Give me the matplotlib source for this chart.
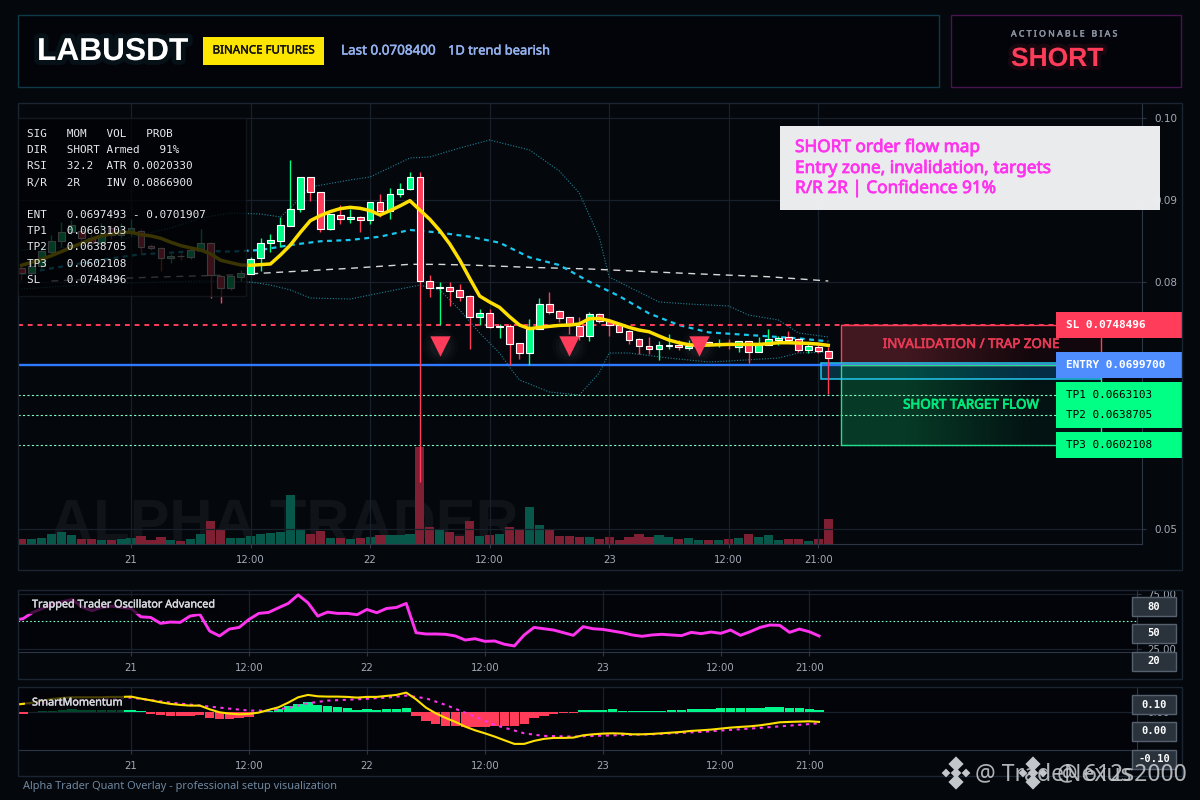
import numpy as np
import matplotlib
matplotlib.use('Agg')
import matplotlib.pyplot as plt
import matplotlib.patheffects as pe
from matplotlib.patches import Rectangle

# hours counted from 21 00:00, one candle per hour
hours = list(range(-11, 71))
opens = [.08171, .08110, .08200, .08374, .08508, .08609, .08625, .08536, .08475, .08658, .08577, .08610,
         .08621, .08443, .08414, .08293, .08325, .08313, .08394, .08475, .08082, .07928, .08070, .08106,
         .08293, .08483, .08508, .08690, .08897, .09278, .09096, .08654, .08824, .08775, .08792, .08755,
         .08974, .08873, .09071, .09132, .09278, .08013, .07936, .07940, .07903, .07830, .07583, .07623,
         .07461, .07465, .07258, .07145, .07437, .07733, .07648, .07575, .07469, .07352, .07611, .07534,
         .07481, .07404, .07307, .07222, .07189, .07230, .07234, .07206, .07218, .07271, .07250, .07258,
         .07218, .07283, .07157, .07234, .07299, .07331, .07307, .07181, .07218, .07169]
highs = [.08200, .08232, .08420, .08577, .08739, .08760, .08698, .08590, .08719, .08700, .08720, .08771,
         .08646, .08470, .08430, .08340, .08362, .08415, .08646, .08490, .08090, .08090, .08151, .08313,
         .08536, .08585, .08792, .09489, .09278, .09278, .09096, .08828, .08938, .08889, .08808, .08982,
         .09076, .09144, .09205, .09343, .09343, .08086, .08005, .08005, .07980, .07846, .07676, .07672,
         .07494, .07494, .07258, .07554, .07806, .07883, .07664, .07575, .07579, .07640, .07623, .07542,
         .07502, .07420, .07319, .07340, .07283, .07372, .07295, .07299, .07311, .07291, .07311, .07311,
         .07291, .07291, .07340, .07433, .07348, .07404, .07319, .07258, .07258, .07218]
lows = [.08029, .08090, .08170, .08305, .08435, .08590, .08500, .08430, .08440, .08530, .08540, .08560,
        .08346, .08400, .08139, .08232, .08273, .08280, .08394, .07814, .07754, .07908, .08021, .08106,
        .08143, .08374, .08435, .08690, .08861, .08990, .08617, .08638, .08711, .08727, .08617, .08711,
        .08792, .08775, .09043, .09124, .05572, .07826, .07481, .07717, .07777, .07189, .07481, .07441,
        .07327, .06995, .07068, .06995, .07437, .07615, .07518, .07372, .07299, .07287, .07502, .07352,
        .07392, .07250, .07129, .07129, .07056, .07185, .07177, .07177, .07198, .07226, .07218, .07185,
        .07153, .07019, .07157, .07234, .07238, .07291, .07157, .07145, .07145, .06642]
closes = [.08110, .08200, .08386, .08508, .08609, .08700, .08536, .08475, .08577, .08577, .08640, .08660,
          .08435, .08414, .08293, .08321, .08317, .08394, .08475, .08090, .07928, .08074, .08110, .08289,
          .08483, .08516, .08694, .08897, .09278, .09096, .08654, .08828, .08775, .08792, .08755, .08974,
          .08873, .09071, .09132, .09278, .08013, .07936, .07945, .07899, .07826, .07583, .07623, .07461,
          .07469, .07254, .07145, .07437, .07733, .07644, .07571, .07477, .07352, .07611, .07534, .07481,
          .07400, .07299, .07230, .07189, .07234, .07238, .07218, .07230, .07250, .07250, .07258, .07250,
          .07283, .07157, .07234, .07307, .07319, .07299, .07177, .07222, .07169, .07084]
volumes = [16, 16, 19, 31, 37, 28, 16, 16, 13, 13, 16, 19, 25, 13, 22, 13, 10, 16, 31, 70, 43, 19, 19, 25,
           31, 34, 37, 148, 43, 31, 40, 19, 19, 16, 19, 22, 28, 28, 28, 31, 291, 52, 46, 37, 25, 70, 25, 27,
           30, 51, 45, 111, 57, 42, 24, 24, 21, 21, 15, 21, 12, 21, 30, 21, 27, 21, 15, 18, 12, 12, 12, 15,
           18, 30, 21, 27, 12, 15, 15, 9, 15, 75]

ema = [.08208, .08244, .08281, .08325, .08374, .08427, .08475, .08524, .08565, .08589, .08605, .08609,
       .08581, .08565, .08536, .08488, .08447, .08419, .08394, .08346, .08269, .08240, .08212, .08208,
       .08216, .08224, .08333, .08455, .08609, .08751, .08812, .08861, .08897, .08913, .08901, .08873,
       .08820, .08873, .08930, .08994, .08880, .08767, .08629, .08467, .08272, .08049, .07834, .07761,
       .07696, .07583, .07481, .07437, .07453, .07465, .07477, .07481, .07494, .07558, .07562, .07534,
       .07494, .07453, .07420, .07400, .07348, .07299, .07266, .07242, .07234, .07238, .07242, .07246,
       .07246, .07246, .07246, .07254, .07266, .07266, .07262, .07258, .07250, .07234]

mid_hours = [-11, -8, -5, -2, 1, 4, 7, 10, 13, 16, 19, 22, 25, 28, 31, 34, 37, 40, 43, 46, 49, 52, 55, 58, 61, 64, 67, 70]
mid_band = [.08102, .08171, .08232, .08293, .08342, .08362, .08386, .08374, .08394, .08455, .08500, .08516, .08556, .08638,
            .08605, .08556, .08483, .08305, .08211, .08009, .07834, .07623, .07481, .07392, .07368, .07344, .07319, .07283]
slow_hours = [-8, -2, 4, 10, 16, 22, 28, 31, 34, 40, 46, 52, 58, 64, 70]
slow_ma = [.08017, .08046, .08070, .08090, .08131, .08171, .08220, .08219, .08211, .08183, .08163, .08130, .08098, .08069, .08017]
upper_hours = [-11, -8, -5, -2, 1, 4, 7, 10, 13, 15, 16, 18, 22, 24, 28, 30, 33, 36, 40, 43, 45, 47, 48, 50, 53, 56, 60, 62, 65, 67, 70]
upper_band = [.08394, .08419, .08431, .08492, .08577, .08662, .08783, .08844, .08832, .08796, .08905, .09161, .09246, .09282,
              .09513, .09526, .09635, .09732, .09611, .09355, .09088, .08552, .08066, .07944, .07762, .07737, .07713, .07603,
              .07543, .07385, .07336]
lower_hours = [-11, -8, -5, 0, 7, 12, 14, 16, 18, 22, 28, 29, 31, 33, 35, 37, 38, 39, 42, 45, 47, 48, 50, 54, 58, 60, 65, 67, 70]
lower_band = [.07920, .07944, .07968, .07993, .08017, .08005, .07968, .07908, .07810, .07798, .07944, .07968, .07908, .07664,
              .07384, .07141, .06971, .06813, .06667, .06630, .06898, .07141, .07141, .07080, .07032, .07044, .07080, .07141, .07153]

signal_hours = [31, 44, 57]
signal_price = .07229
sl_level = .0748496
entry_level = .0699700
tp_levels = [.0663103, .0638705, .0602108]
entry_box_top = .07019
entry_box_bottom = .06829
price_labels = [('SL 0.0748496', .0748496, '#ff3d5a', 'white'), ('ENTRY 0.0699700', .0699700, '#4f8dff', 'white'),
                ('TP1 0.0663103', .0663103, '#00ff84', 'black'), ('TP2 0.0638705', .0638705, '#00ff84', 'black'),
                ('TP3 0.0602108', .0602108, '#00ff84', 'black')]

price_ticks = [.05, .08, .09, .10]
time_ticks = [0, 12, 24, 36, 48, 60, 69]
time_labels = ['21', '12:00', '22', '12:00', '23', '12:00', '21:00']

osc_hours = list(range(-12, 71))
osc = [51.2, 52.4, 58.2, 61.8, 65.8, 67.9, 70.0, 63.3, 59.7, 62.7, 63.9, 62.7, 61.8, 54.2, 53.6, 48.2, 49.4, 49.1, 54.8, 56.4,
       41.2, 36.7, 43.0, 44.5, 51.8, 57.3, 58.2, 62.4, 66.4, 74.2, 67.0, 54.8, 58.5, 57.3, 57.3, 56.1, 60.9, 57.9, 61.8, 62.7,
       66.4, 39.7, 38.5, 38.5, 38.2, 36.7, 33.0, 34.2, 31.8, 32.1, 29.1, 27.6, 37.6, 44.5, 43.3, 42.1, 39.7, 37.3, 45.2, 43.3,
       42.7, 41.2, 39.7, 37.6, 36.4, 37.6, 38.2, 37.6, 37.0, 40.0, 38.8, 40.3, 39.1, 42.1, 37.3, 40.6, 44.5, 46.7, 46.4, 40.0,
       43.0, 40.6, 36.7]

mom_hist = [-.0002, -.00005, .00003, .0001, .00017, .00027, .00017, .00017, .00017, .00013, .00013, .00013, .00007,
            -.0002, -.00037, -.00047, -.00047, -.00047, -.00037, -.0006, -.00077, -.00077, -.00063, -.00053, -.00005,
            .00007, .0003, .00053, .0008, .00093, .00067, .00053, .00047, .00033, .00013, .00023, .00017, .00023, .00023, .00033,
            -.00047, -.00097, -.00127, -.0014, -.00147, -.00157, -.00157, -.00157, -.00147, -.00147, -.00147, -.0012, -.00067,
            -.00047, -.00023, -.00017, -.00017, .00013, .00013, .0002, .00023, .00007, .00003, .00003, .00003, .0001, .00017,
            .00017, .00023, .00027, .00027, .00033, .00033, .00033, .00033, .0004, .00043, .00043, .00037, .00033, .00027, .00013]
mom_fast = [.00067, .00077, .0009, .0011, .00127, .00137, .00143, .00143, .00143, .00143, .00147, .00147, .0015, .0013, .00113,
            .00093, .00077, .00067, .0006, .0006, .00023, -.00007, -.0002, -.00027, -.00023, -.0001, .00017, .00043, .0009, .00143,
            .00167, .00153, .0015, .0015, .00147, .0014, .00147, .00147, .00157, .00167, .0019, .00123, .0004, -.00017, -.00063,
            -.00103, -.0015, -.00187, -.00217, -.0025, -.00287, -.00323, -.00323, -.00293, -.00273, -.00263, -.00263, -.0026,
            -.00237, -.00227, -.0022, -.00217, -.0022, -.00227, -.00227, -.00223, -.00217, -.0021, -.00203, -.00193, -.00187,
            -.0018, -.0017, -.0016, -.00153, -.00147, -.00137, -.00123, -.00107, -.00103, -.001, -.00097, -.00103]
mom_signal_hours = [-12, -7, 0, 4, 8, 12, 14, 16, 18, 20, 23, 26, 28, 30, 32, 35, 37, 40, 42, 45, 48, 53, 58, 61, 64, 67, 70]
mom_signal = [.00073, .00093, .0014, .0009, .0005, .0001, .0001, .00037, .00083, .0011, .00123, .0014, .0016, .00133, .00067,
              -.0005, -.00133, -.00217, -.00243, -.0025, -.0024, -.00227, -.00203, -.00183, -.00163, -.0014, -.00117]

GREEN = '#00ff88'
RED = '#ff3d5a'
YELLOW = '#ffe000'
MAGENTA = '#ff33ee'
GRID = '#18212b'
SPINE = '#2c3644'
FRAME = '#1a2531'
TICK = '#a3abb6'
UI = 'Noto Sans'
HEAVY = 'Liberation Sans'

W, H = 1200, 800
fig = plt.figure(figsize=(12, 8), dpi=100, facecolor='#04070c')


def heavier(color, lw=0.45):
    # the UI font has one weight here, a thin stroke thickens it
    return [pe.withStroke(linewidth=lw, foreground=color)]


def add_panel(left, top, right, bottom):
    a = fig.add_axes([left / W, 1 - bottom / H, (right - left) / W, (bottom - top) / H])
    a.set_facecolor('#02040a')
    for s in a.spines.values():
        s.set_visible(False)
    a.spines['bottom'].set_visible(True)
    a.spines['right'].set_visible(True)
    a.spines['bottom'].set_color(SPINE)
    a.spines['right'].set_color(SPINE)
    a.tick_params(colors=TICK, labelsize=7.3, length=3, width=0.8, color=SPINE, pad=5)
    a.grid(True, color=GRID, lw=0.9)
    a.set_axisbelow(True)
    a.set_xticks(time_ticks)
    a.set_xticklabels(time_labels)
    a.yaxis.tick_right()
    return a


# ---- main price panel
ax = add_panel(17.5, 103, 1142, 544)
ax.set_xlim(-11.4, 101.5)
ax.set_ylim(.04818, .10182)
vol = ax.twinx()
vol.set_ylim(0, 1323)
vol.axis('off')
vol.set_zorder(0)
ax.set_zorder(1)
ax.patch.set_visible(False)
vol.patch.set_visible(True)
vol.patch.set_facecolor('#02040a')
ax.yaxis.tick_right()
ax.set_yticks(price_ticks)
ax.set_yticklabels([f'{v:.2f}' for v in price_ticks])
ax.tick_params(axis='y', labelsize=7.5, labelcolor=TICK, labelright=True, labelleft=False, pad=6)

# watermark sits under the volume bars
vol.text(-8.13, .04854, 'ALPHA TRADER', color='#101318', fontsize=43, family=HEAVY, weight='bold',
         transform=ax.transData, zorder=1)

vol_colors = ['#07584a' if c >= o else '#7f1f33' for o, c in zip(opens, closes)]
vol.bar(hours, volumes, width=0.92, color=vol_colors, zorder=2)

ax.plot(upper_hours, upper_band, color='#1f8496', lw=0.8, ls=(0, (1, 1.5)))
ax.plot(lower_hours, lower_band, color='#1f8496', lw=0.8, ls=(0, (1, 1.5)))
ax.plot(slow_hours, slow_ma, color='#d8d8d8', lw=1.0, ls=(0, (5, 4)))
ax.plot(mid_hours, mid_band, color='#18c8ee', lw=1.6, ls=(0, (2.2, 2)))

# levels
left_edge, label_left, label_w = -11.4, 92.87, 12.7
ax.plot([left_edge, label_left], [sl_level, sl_level], color=RED, lw=1.4, ls=(0, (2.5, 2.5)), zorder=2)
ax.plot([left_edge, label_left], [entry_level, entry_level], color='#2f7bff', lw=1.7, zorder=2)
for lv in tp_levels:
    ax.plot([left_edge, label_left], [lv, lv], color='#7dffc4', lw=0.8, ls=(0, (2, 2)), zorder=2)

# zones, fading to the right
zone_left, zone_right = 71.3, 97.4
red_img = np.array([[[66, 24, 32], [18, 7, 12]]], dtype=np.uint8)
green_img = np.array([[[7, 58, 38], [3, 18, 18]]], dtype=np.uint8)
cyan_img = np.array([[[2, 76, 68], [5, 46, 70]]], dtype=np.uint8)
ax.imshow(red_img, extent=[zone_left, zone_right, entry_level, sl_level], aspect='auto', interpolation='bilinear', zorder=1.5)
ax.imshow(green_img, extent=[zone_left, zone_right, tp_levels[2], entry_level], aspect='auto', interpolation='bilinear', zorder=1.5)
ax.imshow(cyan_img, extent=[zone_left, zone_right, entry_box_bottom, entry_level], aspect='auto', interpolation='bilinear', zorder=1.6)
ax.add_patch(Rectangle((69.3, entry_box_bottom), 2.0, entry_box_top - entry_box_bottom, fc='#04303f', ec='none', zorder=1.6))
ax.add_patch(Rectangle((zone_left, entry_level), zone_right - zone_left, sl_level - entry_level, fc='none', ec=RED, lw=1.0, zorder=3))
ax.add_patch(Rectangle((zone_left, tp_levels[2]), zone_right - zone_left, entry_level - tp_levels[2], fc='none', ec='#1fe08c', lw=1.0, zorder=3))
ax.add_patch(Rectangle((69.3, entry_box_bottom), zone_right - 69.3, entry_box_top - entry_box_bottom, fc='none', ec='#22c8f0', lw=1.1, zorder=3))
ax.text(84.3, .07245, 'INVALIDATION / TRAP ZONE', color='#e83a55', fontsize=9.6, family=UI, ha='center', va='center',
        zorder=4, path_effects=heavier('#e83a55'))
ax.text(84.3, .06508, 'SHORT TARGET FLOW', color='#00e87c', fontsize=9.6, family=UI, ha='center', va='center',
        zorder=4, path_effects=heavier('#00e87c', 0.6))

# candles
for h, o, hi, lo, c in zip(hours, opens, highs, lows, closes):
    col = GREEN if c >= o else RED
    ax.plot([h, h], [lo, hi], color=col, lw=1.0, zorder=5, solid_capstyle='butt')
    ax.add_patch(Rectangle((h - 0.34, min(o, c)), 0.68, max(abs(c - o), .00006), fc=col, ec='white', lw=0.8, zorder=6))

ax.plot(hours, ema, color=YELLOW, lw=2.5, zorder=7, solid_joinstyle='round')

# short signals with a soft glow
for s, a in [(620, 0.018), (400, 0.025), (230, 0.03)]:
    ax.scatter(signal_hours, [signal_price] * 3, s=s, color='#ffffff', alpha=a, lw=0, zorder=7.5)
ax.scatter(signal_hours, [signal_price] * 3, s=215, marker='v', color=RED, lw=0, zorder=8)

# right hand price labels
box_h = .00316
for text, lv, bg, fg in price_labels:
    ax.add_patch(Rectangle((label_left, lv - box_h / 2), label_w, box_h, fc=bg, ec='none', clip_on=False, zorder=9))
for text, lv, bg, fg in price_labels:
    ax.text(label_left + 0.95, lv, text, color=fg, fontsize=7.9, family='DejaVu Sans Mono',
            weight='bold' if fg == 'white' else 'normal', va='center', zorder=10, clip_on=False)
ax.set_xlim(-11.4, 101.5)
ax.set_ylim(.04818, .10182)

# ---- oscillator
ax2 = add_panel(18, 589.5, 1136.5, 652.3)
ax2.set_xlim(-11.5, 102.3)
ax2.set_ylim(21.8, 79.1)
ax2.set_yticks([25, 75])
ax2.set_yticklabels(['25.00', '75.00'])
ax2.axhline(50, color='#7dffc4', lw=0.8, ls=(0, (1.5, 2)))
ax2.plot(osc_hours, osc, color=MAGENTA, lw=2.1, solid_joinstyle='round')

# ---- momentum
ax3 = add_panel(18, 687.3, 1136.5, 750.3)
ax3.set_xlim(-11.5, 102.3)
ax3.set_ylim(-.00387, .00243)
ax3.set_yticks([0])
ax3.set_yticklabels(['0.00'])
hist_colors = ['#00f58a' if v >= 0 else RED for v in mom_hist]
ax3.bar(hours, mom_hist, width=0.95, color=hist_colors)
ax3.plot(mom_signal_hours, mom_signal, color=MAGENTA, lw=1.5, ls=(0, (1.5, 2.2)))
ax3.plot(osc_hours, mom_fast, color=YELLOW, lw=1.5)

# ---- page furniture, drawn in pixel coordinates
ov = fig.add_axes([0, 0, 1, 1], zorder=20)
ov.set_xlim(0, W)
ov.set_ylim(H, 0)
ov.axis('off')
ov.patch.set_visible(False)


def frame(x0, y0, x1, y1, ec=FRAME, fc='none', lw=1.0, alpha=None, z=1):
    ov.add_patch(Rectangle((x0, y0), x1 - x0, y1 - y0, fc=fc, ec=ec, lw=lw, alpha=alpha, zorder=z))


frame(17.5, 103, 1182, 570)
frame(17.5, 589.5, 1182, 678.5)
frame(17.5, 687.3, 1182, 776.3)
frame(18, 15, 939, 87, ec='#0d3a46', fc='#02040a', z=0)
frame(951, 15, 1181, 87, ec='#471450', fc='#02040a', z=0)

ov.text(37, 52, 'LABUSDT', color='white', fontsize=22.8, family=HEAVY, weight='bold', va='center',
        path_effects=[pe.withStroke(linewidth=7, foreground='#0c2a30', alpha=0.35)])
frame(203, 37, 324, 65, ec='none', fc='#ffe600')
ov.text(263.5, 51, 'BINANCE FUTURES', color='#111111', fontsize=8.3, family=UI, ha='center', va='center', path_effects=heavier('#111111', 0.3))
ov.text(341, 51, 'Last 0.0708400', color='#93b2ef', fontsize=9.7, family=UI, va='center', path_effects=heavier('#93b2ef', 0.35))
ov.text(448, 51, '1D trend bearish', color='#93b2ef', fontsize=9.3, family=UI, va='center', path_effects=heavier('#93b2ef', 0.35))
ov.text(1011, 34, 'A C T I O N A B L E   B I A S', color='#8d95a3', fontsize=6.3, family=UI, va='center', path_effects=heavier('#8d95a3', 0.3))
ov.text(1011, 59, 'SHORT', color=RED, fontsize=19, family=HEAVY, weight='bold', va='center',
        path_effects=[pe.withStroke(linewidth=6, foreground='#3a0c18', alpha=0.4)])

# info table
frame(17.5, 118, 246, 296, ec='#161a20', fc='#020305', alpha=0.78, z=3)
info_rows = [(134, 'SIG   MOM   VOL   PROB'), (150, 'DIR   SHORT Armed   91%'), (166, 'RSI   32.2  ATR 0.0020330'),
             (183, 'R/R   2R    INV 0.0866900'), (215, 'ENT   0.0697493 - 0.0701907'), (231, 'TP1   0.0663103'),
             (247, 'TP2   0.0638705'), (264, 'TP3   0.0602108'), (280, 'SL    0.0748496')]
for y, row in info_rows:
    ov.text(27, y, row, color='#e6e9ee', fontsize=7.95, family='DejaVu Sans Mono', va='center', zorder=4)

# note box
frame(780, 126, 1160, 210, ec='none', fc='#f0f1f3', alpha=0.98, z=3)
for y, row in [(147, 'SHORT order flow map'), (168, 'Entry zone, invalidation, targets'), (188, 'R/R 2R | Confidence 91%')]:
    ov.text(795, y, row, color=MAGENTA, fontsize=12.4, family=UI, va='center', zorder=4, path_effects=heavier(MAGENTA, 0.55))

# indicator names
for x1, y, name in [(220, 605, 'Trapped Trader Oscillator Advanced'), (124, 703, 'SmartMomentum')]:
    frame(25, y - 9, x1, y + 9, ec='none', fc='#020305', alpha=0.72, z=3)
    ov.text(32, y, name, color='#d5d8dc', fontsize=7.8, family=UI, va='center', zorder=4, path_effects=heavier('#d5d8dc', 0.3))

# scale badges
for y0, label in [(597, '80'), (624, '50'), (652, '20'), (695, '0.10'), (722, '0.00'), (750, '-0.10')]:
    frame(1132, y0, 1176, y0 + 19, ec='#566170', fc='#2a323c', z=3)
    ov.text(1154, y0 + 9.5, label, color='white', fontsize=7.6, family='DejaVu Sans Mono', weight='bold', ha='center', va='center', zorder=4)

ov.text(23, 787, 'Alpha Trader Quant Overlay - professional setup visualization', color='#6f87a0', fontsize=7.9, family=UI, va='center')

# source watermarks, logo made of five small diamonds
for cx, cy in [(956, 773), (1033, 773)]:
    ov.scatter([cx, cx - 10, cx + 10, cx, cx], [cy, cy, cy, cy - 9, cy + 9], s=[30, 20, 20, 60, 60], marker='D',
               color='#c4c7ca', lw=0, zorder=5)
ov.text(975, 774, '@ TradeNexus', color='#c4c7ca', fontsize=16.5, family=UI, va='center', alpha=0.9, zorder=5)
ov.text(1057, 774, '@ 612s2000', color='#c4c7ca', fontsize=16.5, family=UI, va='center', alpha=0.9, zorder=5)

fig.savefig('out.png', dpi=100, facecolor=fig.get_facecolor())
